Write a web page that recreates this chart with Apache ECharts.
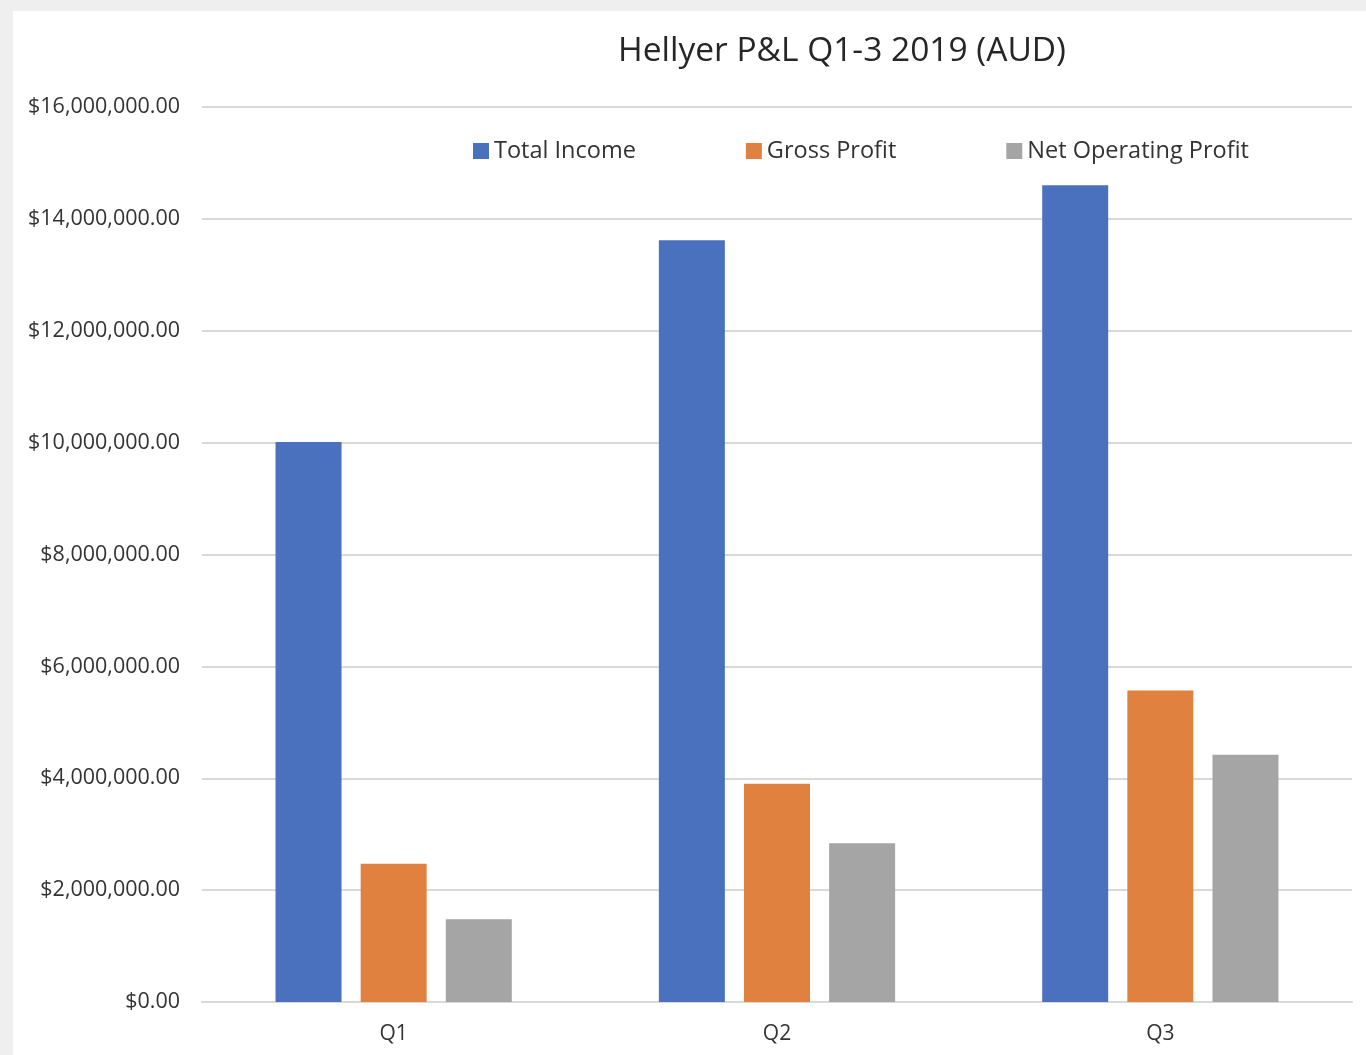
<!DOCTYPE html>
<html>
<head>
<meta charset="utf-8">
<script src="https://cdn.jsdelivr.net/npm/echarts@6/dist/echarts.min.js"></script>
<style>
  html, body { margin: 0; padding: 0; background: #efefef; }
  #card { position: absolute; left: 13px; top: 11px; width: 1353px; height: 1044px; background: #fff; }
  #chart { position: absolute; left: 0; top: 0; width: 1366px; height: 1055px; }
</style>
</head>
<body>
<div id="card"></div>
<div id="chart"></div>
<script>
const categories = ['Q1', 'Q2', 'Q3']
const totalIncome = [10010000, 13620000, 14600000]
const grossProfit = [2470000, 3900000, 5570000]
const netOperatingProfit = [1480000, 2840000, 4420000]

const font = '"Open Sans", "Liberation Sans", sans-serif'

const chart = echarts.init(document.getElementById('chart'))
chart.setOption({
  animation: false,
  backgroundColor: 'transparent',
  title: {
    text: 'Hellyer P&L Q1-3 2019 (AUD)',
    left: 837, top: 29, textAlign: 'center',
    textStyle: { fontFamily: font, fontSize: 33.5, fontWeight: 'normal', color: '#262626' }
  },
  legend: {
    left: 468, top: 134,
    itemWidth: 16, itemHeight: 16, itemGap: 110,
    icon: 'rect',
    textStyle: { fontFamily: font, fontSize: 23.5, color: '#333' },
    data: ['Total Income', 'Gross Profit', 'Net Operating Profit']
  },
  grid: { left: 202, right: 14, top: 107, bottom: 53 },
  xAxis: {
    type: 'category',
    data: categories,
    axisLine: { lineStyle: { color: '#d9d9d9', width: 2 } },
    axisTick: { show: false },
    axisLabel: { fontFamily: font, fontSize: 21, color: '#333', margin: 22 }
  },
  yAxis: {
    type: 'value',
    min: 0, max: 16000000, interval: 2000000,
    axisLabel: {
      fontFamily: font, fontSize: 21.5, color: '#333', margin: 22,
      formatter: v => '$' + v.toLocaleString('en-US', { minimumFractionDigits: 2, maximumFractionDigits: 2 })
    },
    splitLine: { lineStyle: { color: '#d9d9d9', width: 2 } }
  },
  series: [
    { name: 'Total Income', type: 'bar', data: totalIncome, barWidth: 66, barGap: '29%', itemStyle: { color: '#4A71BE' } },
    { name: 'Gross Profit', type: 'bar', data: grossProfit, barWidth: 66, barGap: '29%', itemStyle: { color: '#E0813F' } },
    { name: 'Net Operating Profit', type: 'bar', data: netOperatingProfit, barWidth: 66, barGap: '29%', itemStyle: { color: '#A5A5A5' } }
  ]
})
</script>
</body>
</html>
